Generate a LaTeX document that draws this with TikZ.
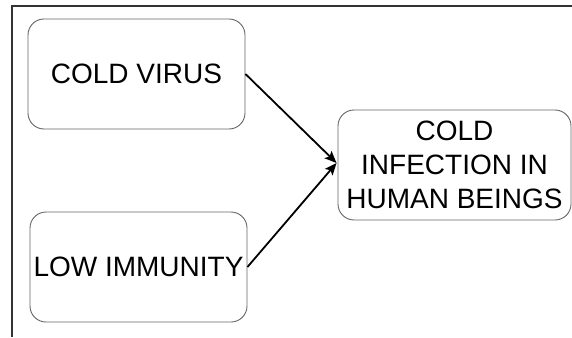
\documentclass[tikz,border=0pt]{standalone}
\usepackage{fontspec}
\setmainfont{Liberation Sans}
\usetikzlibrary{arrows.meta,calc}
\begin{document}
\begin{tikzpicture}[x=1pt,y=-1pt,
  factor/.style={draw=black!60, line width=0.9pt, rounded corners=16pt,
    fill=white, inner sep=0pt, align=center, text=black,
    font=\fontsize{28}{34}\selectfont},
  link/.style={line width=1.8pt, -{Stealth[length=12pt,width=10pt,inset=2.5pt]}},
  frame/.style={draw=black!80, line width=1.4pt}]
  \useasboundingbox (0,0) rectangle (572,337);
  % open frame around the diagram
  \draw[frame] (12,337) -- (12,6) -- (572,6);
  % causes and effect
  \node[factor, minimum width=217pt, minimum height=110pt] (virus) at (136.5,74) {COLD VIRUS};
  \node[factor, minimum width=217pt, minimum height=110pt] (immunity) at (138.5,267) {LOW IMMUNITY};
  \node[factor, minimum width=233pt, minimum height=110pt] (infection) at (454.5,165)
    {COLD\\INFECTION IN\\HUMAN BEINGS};
  \coordinate (meet) at ($(infection.west)+(-1,-2)$);
  \draw[link] (virus.east) -- (meet);
  \draw[link] (immunity.east) -- (meet);
\end{tikzpicture}
\end{document}
